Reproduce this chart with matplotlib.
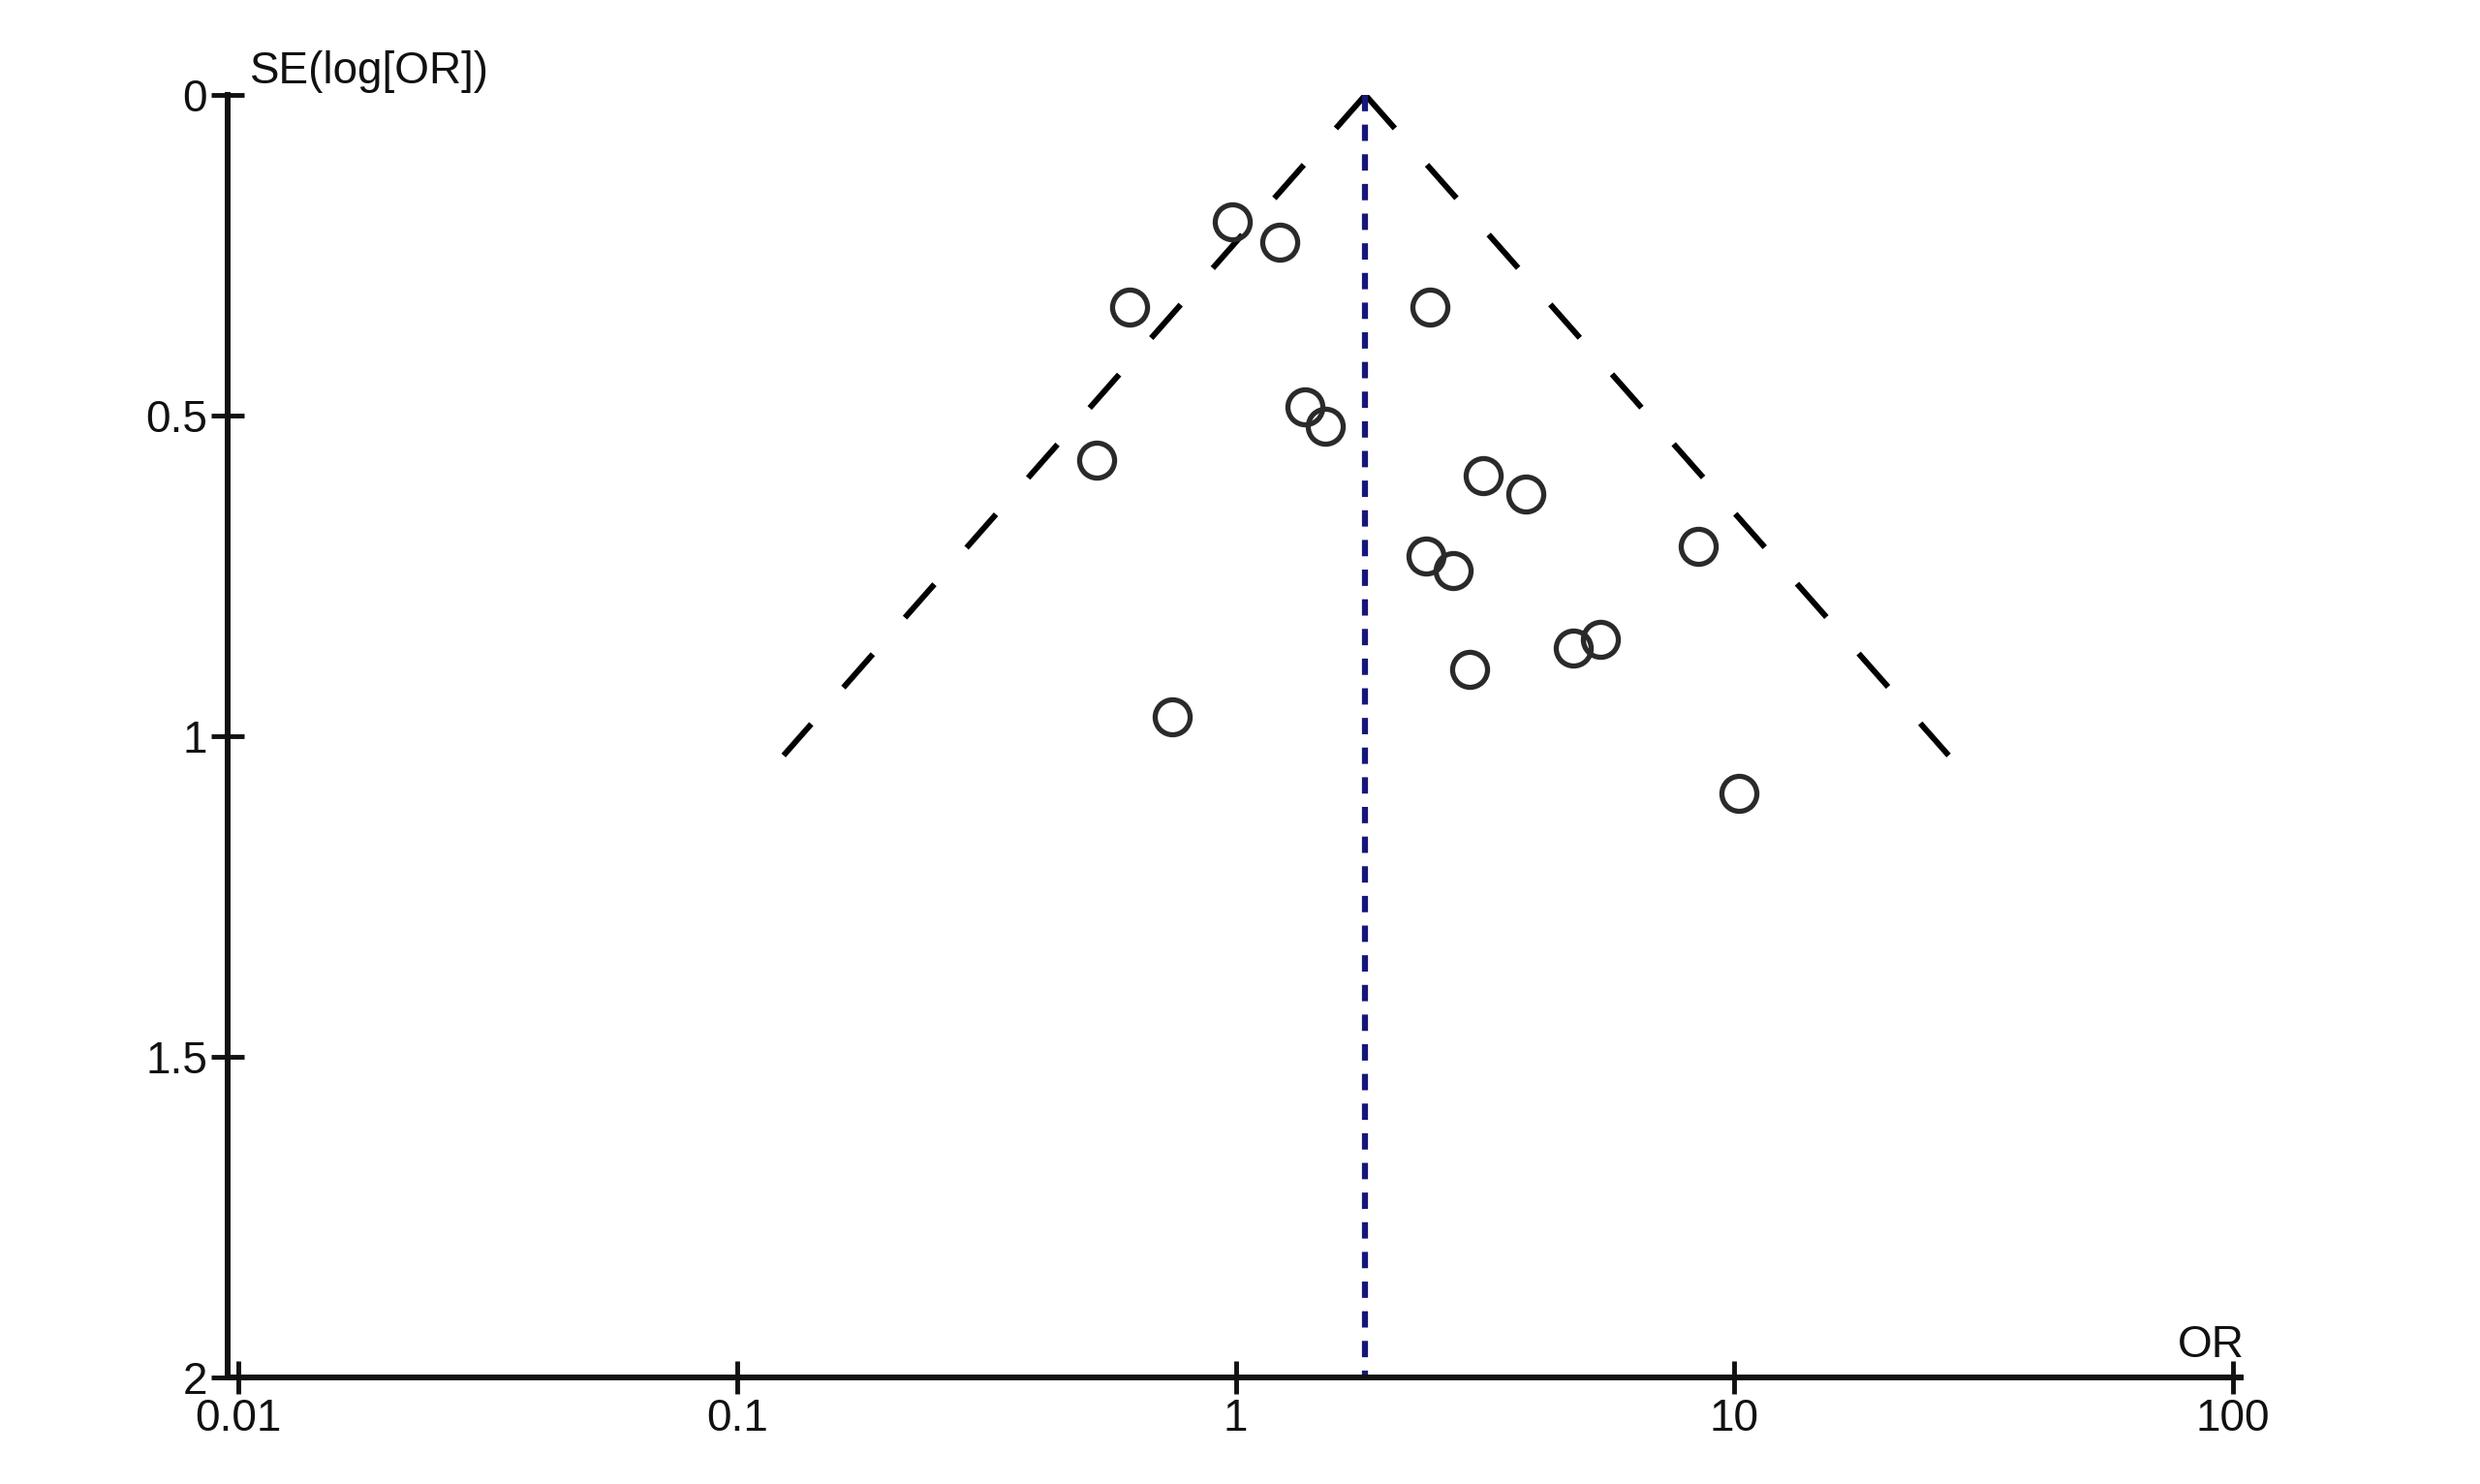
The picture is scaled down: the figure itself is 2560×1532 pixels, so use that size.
import matplotlib.pyplot as plt
import numpy as np

plt.rcParams['font.family'] = ['Liberation Sans', 'DejaVu Sans']

# study estimates
odds_ratio = [0.985, 1.226, 0.614, 2.45, 1.378, 1.515, 0.527, 3.14, 3.82,
              2.41, 2.73, 8.46, 4.76, 5.38, 2.94, 0.747, 10.2]
se_log_or = [0.198, 0.230, 0.331, 0.331, 0.486, 0.516, 0.570, 0.593, 0.622,
             0.719, 0.741, 0.704, 0.862, 0.849, 0.896, 0.970, 1.089]

pooled_or = 1.82
funnel_se = [0, 1.03]
funnel_lo = [pooled_or, 0.124]
funnel_hi = [pooled_or, 26.9]

x_ticks = [0.01, 0.1, 1, 10, 100]
x_tick_labels = ['0.01', '0.1', '1', '10', '100']
y_ticks = [0, 0.5, 1, 1.5, 2]
y_tick_labels = ['0', '0.5', '1', '1.5', '2']

fig = plt.figure(figsize=(25.6, 15.32), dpi=100)
ax = fig.add_axes([0.0918, 0.0718, 0.8117, 0.8642])

ax.plot(funnel_lo, funnel_se, color='black', lw=4.3, dashes=(7.7, 8.4), solid_capstyle='butt')
ax.plot(funnel_hi, funnel_se, color='black', lw=4.3, dashes=(7.7, 8.4), solid_capstyle='butt')
ax.plot([pooled_or, pooled_or], [0, 2], color='#16167a', lw=4.5, dashes=(2.7, 2.2))
ax.plot(odds_ratio, se_log_or, 'o', ms=26, mfc='none', mec='#2a2a2a', mew=3.8)

ax.set_xscale('log')
ax.set_xlim(0.00952, 103.6)
ax.set_ylim(2, 0)
ax.set_xticks(x_ticks)
ax.set_xticklabels(x_tick_labels)
ax.set_yticks(y_ticks)
ax.set_yticklabels(y_tick_labels)
ax.minorticks_off()

for side in ['top', 'right']:
    ax.spines[side].set_visible(False)
for side in ['left', 'bottom']:
    ax.spines[side].set_linewidth(4.3)
    ax.spines[side].set_color('#111111')

ax.tick_params(direction='inout', length=24, width=3.5, colors='#111111',
               labelsize=33, pad=3)

fig.text(0.1008, 0.952, 'SE(log[OR])', fontsize=33, ha='left', va='center', color='#111111')
fig.text(0.8914, 0.0934, 'OR', fontsize=33, ha='center', va='center', color='#111111')

fig.savefig('out.png', dpi=100)
